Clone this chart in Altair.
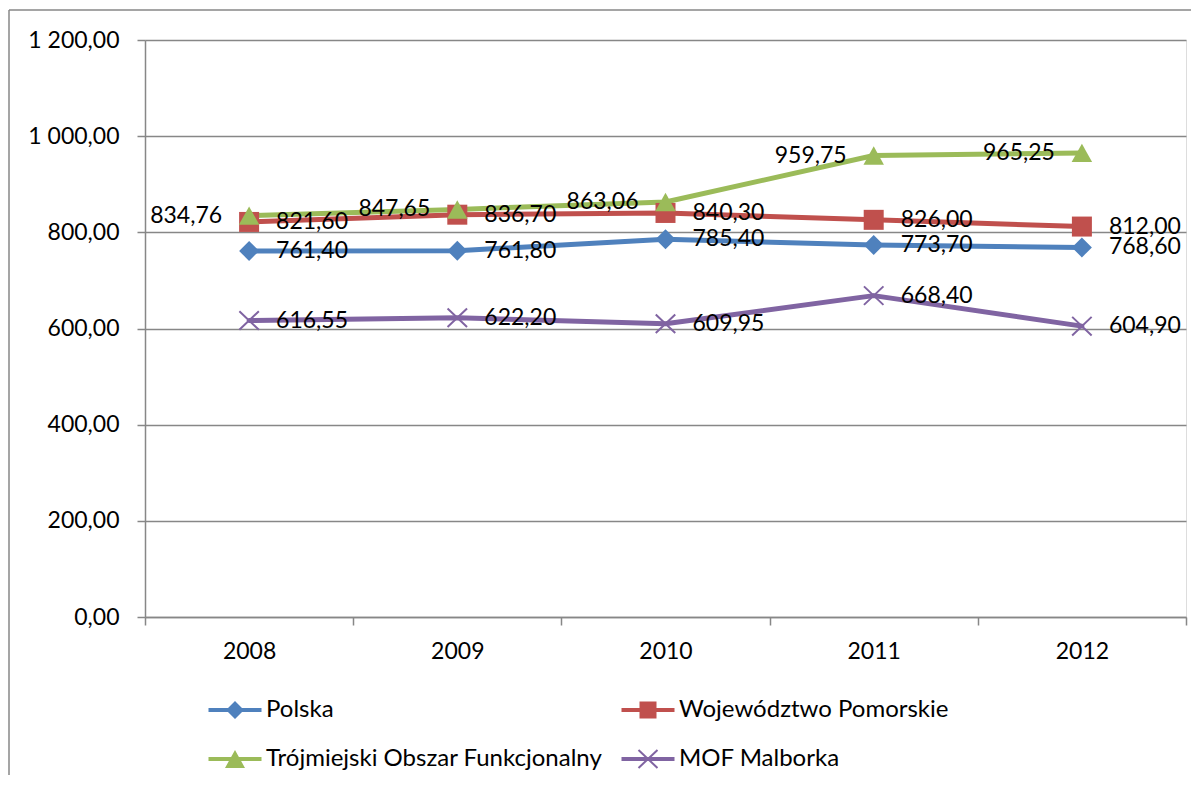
import altair as alt
import pandas as pd

years = ["2008", "2009", "2010", "2011", "2012"]
series_names = ["Polska", "Województwo Pomorskie", "Trójmiejski Obszar Funkcjonalny", "MOF Malborka"]
polska = [761.40, 761.80, 785.40, 773.70, 768.60]
pomorskie = [821.60, 836.70, 840.30, 826.00, 812.00]
trojmiasto = [834.76, 847.65, 863.06, 959.75, 965.25]
mof = [616.55, 622.20, 609.95, 668.40, 604.90]
y_ticks = [0, 200, 400, 600, 800, 1000, 1200]

colors = ["#4F81BD", "#C0504D", "#9BBB59", "#8064A2"]

rows = []
for name, vals in zip(series_names, [polska, pomorskie, trojmiasto, mof]):
    for yr, v in zip(years, vals):
        rows.append({"year": yr, "series": name, "value": v})
df = pd.DataFrame(rows)

FONT = "Lato"
GRAY = "#878787"

# plot marker shapes
plot_shapes = {
    "Polska": "M0,-1L1,0L0,1L-1,0Z",
    "Województwo Pomorskie": "M-1,-1H1V1H-1Z",
    "Trójmiejski Obszar Funkcjonalny": "M0,-0.9L1,0.9L-1,0.9Z",
    "MOF Malborka": "M-1,-0.95L1,0.95M-1,0.95L1,-0.95",
}
plot_sizes = {"Polska": 400, "Województwo Pomorskie": 400,
              "Trójmiejski Obszar Funkcjonalny": 420, "MOF Malborka": 380}

# legend shapes: line + marker combined (filled)
LINE = "M-2.65,-0.2H2.65V0.2H-2.65Z"
legend_shapes = [
    LINE + " M0,-0.9L0.9,0L0,0.9L-0.9,0Z",
    LINE + " M-0.85,-0.85H0.85V0.85H-0.85Z",
    LINE + " M0,-0.9L1,0.9L-1,0.9Z",
    LINE + " M-1.019,-0.827L-0.881,-0.973L1.019,0.827L0.881,0.973Z"
           " M-0.881,0.973L-1.019,0.827L0.881,-0.973L1.019,-0.827Z",
]

color_scale = alt.Scale(domain=series_names, range=colors)
x_enc = alt.X("year:N", scale=alt.Scale(type="band", domain=years, paddingInner=0, paddingOuter=0),
              axis=alt.Axis(title=None, labelAngle=0, tickBand="extent", tickSize=8, tickColor=GRAY,
                            tickWidth=1.5, domainColor=GRAY, domainWidth=1.5, labelPadding=15,
                            labelFont=FONT, labelFontSize=23, labelColor="black", grid=False))
y_enc = alt.Y("value:Q", scale=alt.Scale(domain=[0, 1200], nice=False, zero=True),
              axis=alt.Axis(title=None, values=y_ticks, grid=True, gridColor=GRAY, gridWidth=1.5,
                            tickSize=8, tickColor=GRAY, tickWidth=1.5, domainColor=GRAY, domainWidth=1.5,
                            labelPadding=18, labelFont=FONT, labelFontSize=23, labelColor="black",
                            labelExpr="replace(replace(format(datum.value, ',.2f'), ',', ' '), '.', ',')"))

base = alt.Chart(df)

lines = base.mark_line(strokeWidth=5, strokeJoin="round", strokeCap="round").encode(
    x=x_enc, y=y_enc, color=alt.Color("series:N", scale=color_scale, legend=None),
    detail="series:N")

markers = []
for name in series_names:
    filled = name != "MOF Malborka"
    m = base.transform_filter(alt.datum.series == name).mark_point(
        shape=plot_shapes[name], filled=filled, size=plot_sizes[name],
        strokeWidth=2, opacity=1).encode(
        x=x_enc, y=y_enc, color=alt.Color("series:N", scale=color_scale, legend=None))
    markers.append(m)

leg = alt.Legend(title=None, orient="none", legendX=78, legendY=658, direction="horizontal",
                 columns=2, columnPadding=18, rowPadding=25,
                 symbolSize=400, symbolStrokeWidth=0, labelOffset=19,
                 labelFont=FONT, labelFontSize=24, labelColor="black", labelLimit=600)

legend_layer = base.transform_filter("false").mark_point(filled=True, opacity=1).encode(
    x=x_enc, y=y_enc,
    color=alt.Color("series:N", scale=color_scale, legend=leg),
    shape=alt.Shape("series:N", scale=alt.Scale(domain=series_names, range=legend_shapes), legend=leg))

label_text = "replace(format(datum.value, '.2f'), '.', ',')"
labels_right = base.transform_filter(alt.datum.series != "Trójmiejski Obszar Funkcjonalny").transform_calculate(
    lab=label_text).mark_text(align="left", baseline="middle", dx=27, font=FONT, fontSize=23,
                              color="black").encode(x=x_enc, y=y_enc, text="lab:N")
labels_left = base.transform_filter(alt.datum.series == "Trójmiejski Obszar Funkcjonalny").transform_calculate(
    lab=label_text).mark_text(align="right", baseline="middle", dx=-27, font=FONT, fontSize=23,
                              color="black").encode(x=x_enc, y=y_enc, text="lab:N")

frame_data = alt.Data(values=[{}])
frame_top = alt.Chart(frame_data).mark_rule(color=GRAY, strokeWidth=1.5).encode(
    x=alt.value(-136), x2=alt.value(1046), y=alt.value(-30))
frame_left = alt.Chart(frame_data).mark_rule(color=GRAY, strokeWidth=1.5).encode(
    x=alt.value(-136), y=alt.value(-30), y2=alt.value(735))

chart = alt.layer(frame_top, frame_left, lines, *markers, legend_layer, labels_right, labels_left).resolve_scale(
    color="independent", shape="independent"
).properties(
    width=1041, height=577, padding={"left": 0, "top": 1, "right": 0, "bottom": 0}
).configure_view(stroke=None).configure(font=FONT, background="white")

chart.save("out.html", embed_options={"renderer": "svg", "actions": False})
